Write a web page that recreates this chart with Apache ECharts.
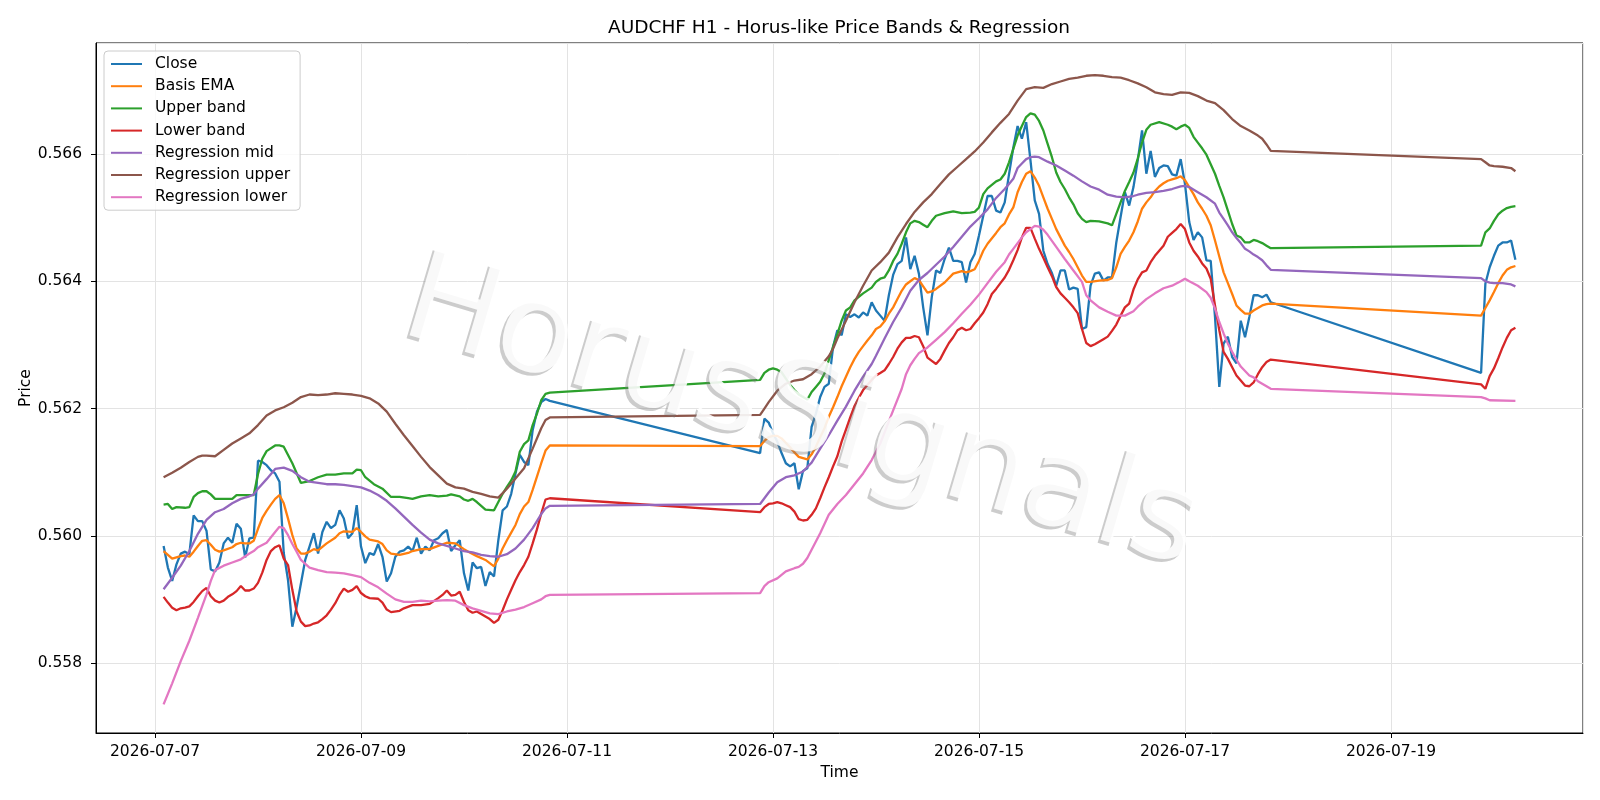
<!DOCTYPE html>
<html>
<head>
<meta charset="utf-8">
<title>AUDCHF H1 - Horus-like Price Bands & Regression</title>
<script src="https://cdn.jsdelivr.net/npm/echarts@6/dist/echarts.min.js"></script>
<style>
  html, body { margin: 0; padding: 0; background: #fff; }
  #chart { width: 1600px; height: 800px; }
</style>
</head>
<body>
<div id="chart"></div>
<script>
// time is kept as hours after 2026-07-07 00:00 UTC
const T0 = Date.UTC(2026, 6, 7);
const HOUR = 3600 * 1000;

// close, hourly, three trading blocks (weekend gaps in between)
const closeStart = [2, 141, 309];
const closeSeg1 = [
  0.55984, 0.55950, 0.55929, 0.55955, 0.55972, 0.55975, 0.55971, 0.56032, 0.56023, 0.56023,
  0.56008, 0.55947, 0.55944, 0.55958, 0.55988, 0.55997, 0.55989, 0.56019, 0.56011, 0.55966,
  0.55996, 0.55997, 0.56118, 0.56116, 0.56111, 0.56103, 0.56098, 0.56085, 0.55973, 0.55930,
  0.55857, 0.55888, 0.55925, 0.55962, 0.55983, 0.56004, 0.55972, 0.56006, 0.56022, 0.56012,
  0.56017, 0.56040, 0.56027, 0.55996, 0.56004, 0.56048, 0.55983, 0.55957, 0.55973, 0.55970,
  0.55987, 0.55967, 0.55928, 0.55941, 0.55967, 0.55975, 0.55977, 0.55983, 0.55976, 0.55997,
  0.55972, 0.55983, 0.55977, 0.55993, 0.55996, 0.56004, 0.56009, 0.55976, 0.55985, 0.55993,
  0.55941, 0.55914, 0.55958, 0.55949, 0.55951, 0.55921, 0.55943, 0.55936, 0.55993, 0.56040,
  0.56046, 0.56066, 0.56098, 0.56127, 0.56116, 0.56111, 0.56166, 0.56195, 0.56210, 0.56215,
  0.56212
];
const closeSeg2 = [
  0.56130, 0.56184, 0.56178, 0.56161, 0.56148, 0.56130, 0.56114, 0.56109, 0.56114, 0.56073,
  0.56102, 0.56106, 0.56171, 0.56192, 0.56218, 0.56234, 0.56239, 0.56297, 0.56323, 0.56315,
  0.56348, 0.56344, 0.56348, 0.56343, 0.56351, 0.56346, 0.56367, 0.56354, 0.56346, 0.56338,
  0.56378, 0.56410, 0.56427, 0.56432, 0.56469, 0.56419, 0.56440, 0.56412, 0.56359, 0.56315,
  0.56375, 0.56417, 0.56413, 0.56435, 0.56453, 0.56432, 0.56432, 0.56430, 0.56398, 0.56430,
  0.56443, 0.56472, 0.56503, 0.56534, 0.56534, 0.56511, 0.56508, 0.56524, 0.56568, 0.56610,
  0.56644, 0.56624, 0.56650, 0.56590, 0.56527, 0.56506, 0.56448, 0.56427, 0.56413, 0.56393,
  0.56417, 0.56417, 0.56387, 0.56390, 0.56388, 0.56325, 0.56328, 0.56393, 0.56412, 0.56414,
  0.56401, 0.56406, 0.56406, 0.56461, 0.56501, 0.56540, 0.56519, 0.56548, 0.56590, 0.56637,
  0.56569, 0.56605, 0.56564, 0.56578, 0.56582, 0.56581, 0.56568, 0.56566, 0.56592, 0.56553,
  0.56493, 0.56465, 0.56477, 0.56469, 0.56433, 0.56432, 0.56344, 0.56234, 0.56302, 0.56313,
  0.56281, 0.56271, 0.56338, 0.56312, 0.56344, 0.56378, 0.56378, 0.56375, 0.56379, 0.56367
];
const closeSeg3 = [0.56256, 0.56396, 0.56422, 0.56440, 0.56456, 0.56461, 0.56461, 0.56464, 0.56434];

// smoother series: [hour, price]
const basisEma = [
  [2,0.55976],[4,0.55964],[6,0.55968],[7,0.55969],[8,0.55967],[9,0.55975],[10,0.55984],[11,0.55992],[12,0.55993],[13,0.55986],
  [14,0.55978],[15,0.55975],[16,0.55977],[18,0.55982],[19,0.55987],[20,0.55989],[21,0.55988],[22,0.55988],[23,0.55992],[24,0.56011],
  [25,0.56028],[26,0.56039],[27,0.56049],[28,0.56058],[29,0.56064],[30,0.56051],[31,0.56027],[32,0.56001],[33,0.55980],[34,0.55972],
  [35,0.55972],[36,0.55975],[37,0.55979],[38,0.55977],[40,0.55988],[42,0.55997],[43,0.56004],[44,0.56007],[46,0.56006],[47,0.56012],
  [48,0.56006],[49,0.55999],[50,0.55994],[52,0.55991],[53,0.55987],[54,0.55977],[55,0.55972],[57,0.55970],[59,0.55973],[60,0.55976],
  [62,0.55979],[64,0.55979],[66,0.55984],[68,0.55989],[70,0.55988],[72,0.55979],[73,0.55975],[75,0.55968],[77,0.55962],[79,0.55952],
  [80,0.55964],[81,0.55980],[82,0.55993],[83,0.56005],[84,0.56017],[85,0.56034],[86,0.56046],[87,0.56053],[88,0.56072],[89,0.56093],
  [90,0.56114],[91,0.56134],[92,0.56142],
  [141,0.56141],[142,0.56149],[143,0.56155],[144,0.56157],[145,0.56157],[146,0.56153],[147,0.56146],[148,0.56139],[149,0.56131],[150,0.56124],
  [151,0.56122],[152,0.56120],[153,0.56128],[154,0.56140],[155,0.56155],[156,0.56169],[157,0.56187],[158,0.56202],[159,0.56218],[160,0.56235],
  [161,0.56250],[162,0.56265],[163,0.56278],[164,0.56289],[165,0.56298],[166,0.56307],[167,0.56315],[168,0.56325],[169,0.56329],[170,0.56337],
  [171,0.56349],[172,0.56359],[173,0.56372],[174,0.56385],[175,0.56395],[176,0.56400],[177,0.56405],[178,0.56402],[179,0.56392],[180,0.56382],
  [181,0.56384],[182,0.56388],[184,0.56398],[186,0.56412],[188,0.56416],[189,0.56414],[190,0.56416],[191,0.56419],[192,0.56432],[193,0.56448],
  [194,0.56459],[196,0.56476],[197,0.56485],[198,0.56491],[199,0.56505],[200,0.56516],[201,0.56540],[202,0.56556],[203,0.56569],[204,0.56573],
  [205,0.56563],[206,0.56550],[207,0.56532],[208,0.56514],[209,0.56498],[210,0.56482],[211,0.56469],[212,0.56456],[213,0.56446],[214,0.56435],
  [215,0.56422],[216,0.56409],[217,0.56399],[218,0.56399],[220,0.56401],[222,0.56402],[223,0.56405],[224,0.56422],[225,0.56443],[226,0.56454],
  [227,0.56464],[228,0.56477],[229,0.56494],[230,0.56514],[231,0.56524],[232,0.56532],[233,0.56542],[234,0.56549],[235,0.56554],[236,0.56558],
  [237,0.56560],[238,0.56562],[239,0.56565],[240,0.56559],[241,0.56548],[242,0.56537],[243,0.56524],[244,0.56514],[245,0.56503],[246,0.56488],
  [247,0.56464],[248,0.56439],[249,0.56414],[250,0.56397],[251,0.56380],[252,0.56362],[253,0.56355],[254,0.56349],[255,0.56349],[256,0.56354],
  [257,0.56358],[258,0.56362],[259,0.56364],[260,0.56365],
  [309,0.56346],[310,0.56358],[311,0.56370],[312,0.56383],[313,0.56397],[314,0.56409],[315,0.56418],[316,0.56422],[317,0.56424]
];
const upperBand = [
  [2,0.56049],[3,0.56050],[4,0.56042],[5,0.56045],[7,0.56044],[8,0.56045],[9,0.56061],[10,0.56067],[11,0.56070],[12,0.56070],
  [13,0.56065],[14,0.56058],[18,0.56058],[19,0.56064],[23,0.56064],[24,0.56097],[25,0.56121],[26,0.56133],[28,0.56142],[29,0.56142],
  [30,0.56140],[31,0.56127],[32,0.56114],[34,0.56083],[36,0.56086],[38,0.56092],[40,0.56096],[42,0.56096],[44,0.56098],[46,0.56098],
  [47,0.56104],[48,0.56103],[49,0.56092],[51,0.56081],[53,0.56074],[55,0.56061],[57,0.56061],[59,0.56059],[60,0.56058],[62,0.56062],
  [64,0.56064],[66,0.56062],[68,0.56063],[69,0.56065],[71,0.56062],[72,0.56057],[73,0.56055],[74,0.56058],[75,0.56053],[77,0.56041],
  [79,0.56040],[80,0.56053],[81,0.56066],[82,0.56077],[83,0.56087],[84,0.56101],[85,0.56132],[86,0.56144],[87,0.56150],[88,0.56174],
  [89,0.56192],[90,0.56213],[91,0.56223],[92,0.56225],
  [141,0.56245],[142,0.56256],[143,0.56261],[144,0.56263],[145,0.56261],[146,0.56257],[147,0.56247],[148,0.56237],[149,0.56229],[150,0.56222],
  [151,0.56218],[152,0.56214],[153,0.56226],[154,0.56234],[155,0.56242],[156,0.56255],[157,0.56276],[158,0.56297],[159,0.56317],[160,0.56338],
  [161,0.56354],[162,0.56359],[163,0.56370],[165,0.56381],[167,0.56390],[168,0.56399],[169,0.56404],[170,0.56406],[171,0.56417],[172,0.56432],
  [173,0.56443],[174,0.56459],[175,0.56477],[176,0.56491],[177,0.56495],[178,0.56493],[179,0.56489],[180,0.56485],[181,0.56495],[182,0.56503],
  [184,0.56507],[186,0.56510],[188,0.56507],[190,0.56508],[191,0.56509],[192,0.56516],[193,0.56537],[194,0.56546],[196,0.56557],[197,0.56560],
  [198,0.56569],[199,0.56587],[200,0.56608],[201,0.56629],[202,0.56644],[203,0.56658],[204,0.56664],[205,0.56662],[206,0.56652],[207,0.56637],
  [208,0.56616],[209,0.56595],[210,0.56571],[211,0.56556],[212,0.56545],[213,0.56532],[214,0.56521],[215,0.56507],[216,0.56498],[217,0.56493],
  [218,0.56495],[220,0.56494],[222,0.56491],[223,0.56488],[224,0.56506],[225,0.56524],[226,0.56542],[227,0.56556],[228,0.56571],[229,0.56593],
  [230,0.56618],[231,0.56638],[232,0.56646],[234,0.56650],[236,0.56646],[237,0.56643],[238,0.56639],[239,0.56643],[240,0.56646],[241,0.56641],
  [242,0.56627],[243,0.56618],[244,0.56609],[245,0.56599],[246,0.56584],[247,0.56569],[248,0.56550],[249,0.56532],[250,0.56511],[251,0.56490],
  [252,0.56472],[253,0.56469],[254,0.56461],[255,0.56461],[256,0.56465],[257,0.56463],[258,0.56460],[259,0.56456],[260,0.56452],
  [309,0.56456],[310,0.56477],[311,0.56483],[312,0.56495],[313,0.56505],[314,0.56511],[315,0.56515],[316,0.56517],[317,0.56518]
];
const lowerBand = [
  [2,0.55904],[3,0.55895],[4,0.55887],[5,0.55883],[6,0.55886],[7,0.55887],[8,0.55889],[9,0.55896],[10,0.55905],[11,0.55913],
  [12,0.55918],[13,0.55905],[14,0.55898],[15,0.55895],[16,0.55898],[17,0.55904],[18,0.55908],[19,0.55913],[20,0.55921],[21,0.55914],
  [22,0.55914],[23,0.55917],[24,0.55926],[25,0.55942],[26,0.55962],[27,0.55976],[28,0.55982],[29,0.55985],[30,0.55964],[31,0.55954],
  [32,0.55915],[33,0.55881],[34,0.55865],[35,0.55858],[36,0.55859],[37,0.55862],[38,0.55864],[39,0.55869],[40,0.55875],[41,0.55884],
  [42,0.55894],[43,0.55907],[44,0.55917],[45,0.55912],[46,0.55915],[47,0.55921],[48,0.55910],[49,0.55905],[50,0.55902],[52,0.55901],
  [53,0.55895],[54,0.55884],[55,0.55880],[57,0.55882],[58,0.55886],[60,0.55891],[62,0.55891],[64,0.55893],[66,0.55902],[67,0.55907],
  [68,0.55914],[69,0.55906],[70,0.55907],[71,0.55912],[72,0.55896],[73,0.55883],[74,0.55879],[75,0.55881],[76,0.55877],[77,0.55873],
  [78,0.55869],[79,0.55863],[80,0.55868],[81,0.55883],[82,0.55900],[83,0.55915],[84,0.55930],[85,0.55943],[86,0.55954],[87,0.55967],
  [88,0.55988],[89,0.56010],[90,0.56035],[91,0.56057],[92,0.56059],
  [141,0.56037],[142,0.56045],[143,0.56050],[144,0.56051],[145,0.56053],[146,0.56051],[147,0.56048],[148,0.56045],[149,0.56038],[150,0.56026],
  [151,0.56024],[152,0.56025],[153,0.56033],[154,0.56043],[155,0.56059],[156,0.56076],[157,0.56092],[158,0.56109],[159,0.56125],[160,0.56148],
  [161,0.56167],[162,0.56186],[163,0.56204],[164,0.56217],[165,0.56229],[166,0.56237],[167,0.56245],[168,0.56252],[169,0.56256],[170,0.56260],
  [171,0.56270],[172,0.56281],[173,0.56294],[174,0.56304],[175,0.56311],[176,0.56311],[177,0.56314],[178,0.56312],[179,0.56298],[180,0.56280],
  [181,0.56275],[182,0.56270],[183,0.56278],[184,0.56291],[185,0.56303],[186,0.56312],[187,0.56323],[188,0.56327],[189,0.56323],[190,0.56325],
  [191,0.56334],[192,0.56342],[193,0.56351],[194,0.56364],[195,0.56380],[196,0.56388],[197,0.56397],[198,0.56406],[199,0.56418],[200,0.56433],
  [201,0.56449],[202,0.56469],[203,0.56484],[204,0.56484],[205,0.56467],[206,0.56451],[207,0.56437],[208,0.56422],[209,0.56408],[210,0.56391],
  [211,0.56381],[212,0.56374],[213,0.56367],[214,0.56359],[215,0.56350],[216,0.56325],[217,0.56303],[218,0.56298],[219,0.56301],[220,0.56305],
  [221,0.56309],[222,0.56313],[223,0.56322],[224,0.56332],[225,0.56346],[226,0.56359],[227,0.56365],[228,0.56387],[229,0.56403],[230,0.56414],
  [231,0.56417],[232,0.56430],[233,0.56440],[234,0.56448],[235,0.56456],[236,0.56470],[237,0.56476],[238,0.56482],[239,0.56490],[240,0.56482],
  [241,0.56461],[242,0.56448],[243,0.56439],[244,0.56428],[245,0.56420],[246,0.56404],[247,0.56362],[248,0.56323],[249,0.56289],[250,0.56278],
  [251,0.56265],[252,0.56252],[253,0.56244],[254,0.56236],[255,0.56235],[256,0.56241],[257,0.56254],[258,0.56265],[259,0.56273],[260,0.56277],
  [309,0.56238],[310,0.56231],[311,0.56251],[312,0.56263],[313,0.56279],[314,0.56296],[315,0.56311],[316,0.56323],[317,0.56327]
];
const regMid = [
  [2,0.55916],[4,0.55934],[6,0.55953],[8,0.55976],[10,0.56003],[12,0.56025],[14,0.56037],[16,0.56042],[18,0.56051],[20,0.56058],
  [22,0.56062],[23,0.56065],[24,0.56074],[26,0.56089],[28,0.56105],[30,0.56107],[32,0.56102],[34,0.56092],[36,0.56085],[38,0.56083],
  [40,0.56081],[42,0.56081],[44,0.56080],[46,0.56078],[48,0.56076],[50,0.56071],[52,0.56064],[54,0.56055],[56,0.56043],[58,0.56030],
  [60,0.56017],[62,0.56005],[64,0.55994],[66,0.55988],[68,0.55984],[70,0.55980],[72,0.55976],[74,0.55974],[76,0.55970],[78,0.55968],
  [80,0.55967],[82,0.55971],[84,0.55980],[86,0.55994],[88,0.56012],[90,0.56034],[91,0.56043],[92,0.56047],
  [141,0.56050],[142,0.56059],[143,0.56068],[145,0.56084],[147,0.56092],[149,0.56095],[151,0.56101],[152,0.56108],[153,0.56115],[155,0.56137],
  [157,0.56158],[159,0.56181],[161,0.56203],[163,0.56228],[165,0.56250],[167,0.56270],[168,0.56283],[170,0.56310],[172,0.56336],[174,0.56359],
  [176,0.56385],[178,0.56402],[180,0.56413],[182,0.56426],[184,0.56439],[186,0.56454],[188,0.56470],[190,0.56486],[192,0.56499],[194,0.56513],
  [196,0.56531],[198,0.56545],[199,0.56553],[200,0.56561],[201,0.56578],[202,0.56585],[203,0.56592],[204,0.56595],[205,0.56596],[206,0.56595],
  [208,0.56588],[210,0.56582],[212,0.56574],[214,0.56566],[216,0.56557],[218,0.56549],[220,0.56544],[222,0.56536],[224,0.56533],[226,0.56532],
  [228,0.56534],[229,0.56536],[231,0.56539],[233,0.56540],[235,0.56542],[237,0.56545],[239,0.56549],[240,0.56550],[241,0.56548],[243,0.56540],
  [245,0.56532],[247,0.56522],[248,0.56508],[249,0.56498],[250,0.56488],[251,0.56477],[252,0.56468],[253,0.56460],[254,0.56451],[255,0.56447],
  [256,0.56442],[257,0.56438],[258,0.56433],[259,0.56425],[260,0.56418],
  [309,0.56405],[310,0.56400],[311,0.56398],[312,0.56397],[314,0.56397],[316,0.56395],[317,0.56392]
];
const regUpper = [
  [2,0.56092],[4,0.56099],[6,0.56107],[8,0.56116],[10,0.56124],[11,0.56126],[12,0.56126],[14,0.56125],[16,0.56135],[18,0.56145],
  [20,0.56153],[22,0.56161],[24,0.56174],[26,0.56189],[28,0.56197],[30,0.56202],[32,0.56209],[34,0.56218],[36,0.56222],[38,0.56221],
  [40,0.56222],[42,0.56224],[44,0.56223],[46,0.56222],[48,0.56220],[50,0.56216],[52,0.56208],[54,0.56195],[56,0.56176],[58,0.56158],
  [60,0.56141],[62,0.56124],[64,0.56108],[66,0.56095],[68,0.56082],[70,0.56076],[72,0.56074],[74,0.56069],[76,0.56066],[78,0.56062],
  [80,0.56060],[82,0.56074],[84,0.56090],[86,0.56106],[88,0.56137],[90,0.56169],[91,0.56182],[92,0.56186],
  [141,0.56190],[142,0.56200],[143,0.56210],[145,0.56228],[147,0.56239],[149,0.56244],[151,0.56246],[153,0.56254],[155,0.56266],[157,0.56282],
  [158,0.56294],[159,0.56310],[161,0.56338],[163,0.56367],[165,0.56393],[167,0.56417],[169,0.56430],[171,0.56445],[173,0.56469],[175,0.56490],
  [177,0.56509],[179,0.56524],[181,0.56537],[183,0.56553],[185,0.56568],[187,0.56580],[189,0.56592],[191,0.56604],[193,0.56618],[195,0.56634],
  [197,0.56649],[199,0.56663],[201,0.56684],[203,0.56702],[205,0.56705],[207,0.56704],[209,0.56710],[211,0.56714],[213,0.56718],[215,0.56720],
  [217,0.56723],[219,0.56724],[221,0.56723],[223,0.56721],[225,0.56720],[227,0.56716],[229,0.56711],[231,0.56705],[233,0.56697],[235,0.56694],
  [237,0.56693],[239,0.56697],[241,0.56696],[243,0.56691],[245,0.56684],[247,0.56680],[249,0.56669],[251,0.56655],[253,0.56644],[255,0.56637],
  [257,0.56629],[258,0.56624],[259,0.56615],[260,0.56605],
  [309,0.56592],[310,0.56587],[311,0.56582],[312,0.56581],[314,0.56580],[316,0.56578],[317,0.56573]
];
const regLower = [
  [2,0.55735],[4,0.55768],[6,0.55803],[8,0.55835],[10,0.55871],[12,0.55908],[13,0.55929],[14,0.55946],[16,0.55953],[18,0.55958],
  [20,0.55963],[22,0.55972],[23,0.55976],[24,0.55982],[26,0.55989],[28,0.56006],[29,0.56014],[30,0.56012],[31,0.56001],[32,0.55987],
  [33,0.55975],[34,0.55962],[36,0.55950],[38,0.55946],[40,0.55943],[42,0.55942],[44,0.55941],[46,0.55938],[48,0.55935],[50,0.55926],
  [52,0.55919],[54,0.55909],[56,0.55900],[58,0.55896],[60,0.55896],[62,0.55898],[64,0.55897],[66,0.55898],[68,0.55899],[70,0.55898],
  [72,0.55891],[74,0.55886],[76,0.55882],[78,0.55878],[80,0.55877],[82,0.55881],[84,0.55884],[86,0.55888],[88,0.55894],[90,0.55900],
  [91,0.55905],[92,0.55907],
  [141,0.55910],[142,0.55921],[143,0.55927],[145,0.55933],[147,0.55944],[149,0.55949],[150,0.55951],[151,0.55956],[152,0.55965],[153,0.55978],
  [155,0.56004],[157,0.56033],[159,0.56050],[161,0.56064],[163,0.56081],[165,0.56098],[167,0.56119],[169,0.56145],[172,0.56197],[173,0.56214],
  [174,0.56231],[175,0.56254],[176,0.56268],[177,0.56278],[178,0.56287],[180,0.56296],[182,0.56308],[184,0.56320],[186,0.56334],[188,0.56349],
  [190,0.56363],[192,0.56379],[194,0.56397],[196,0.56415],[198,0.56430],[199,0.56442],[200,0.56451],[201,0.56460],[202,0.56469],[203,0.56477],
  [204,0.56482],[205,0.56487],[206,0.56486],[207,0.56481],[208,0.56473],[210,0.56454],[212,0.56435],[214,0.56417],[216,0.56399],[217,0.56378],
  [218,0.56370],[220,0.56359],[222,0.56352],[224,0.56346],[226,0.56346],[228,0.56353],[229,0.56360],[231,0.56372],[233,0.56381],[235,0.56389],
  [237,0.56393],[239,0.56400],[240,0.56404],[241,0.56400],[243,0.56393],[245,0.56383],[246,0.56374],[247,0.56357],[248,0.56336],[249,0.56318],
  [250,0.56302],[251,0.56289],[252,0.56277],[253,0.56266],[254,0.56259],[255,0.56252],[256,0.56249],[257,0.56243],[258,0.56239],[259,0.56235],
  [260,0.56231],
  [309,0.56218],[310,0.56216],[311,0.56213],[317,0.56212]
];

const seriesNames = ['Close', 'Basis EMA', 'Upper band', 'Lower band', 'Regression mid', 'Regression upper', 'Regression lower'];
const seriesColors = ['#1f77b4', '#ff7f0e', '#2ca02c', '#d62728', '#9467bd', '#8c564b', '#e377c2'];

// build [time, value] pairs
const toTime = h => T0 + h * HOUR;
const closeData = [];
[closeSeg1, closeSeg2, closeSeg3].forEach((seg, i) => {
  seg.forEach((v, k) => closeData.push([toTime(closeStart[i] + k), v]));
});
const pairs = arr => arr.map(p => [toTime(p[0]), p[1]]);
const seriesData = [closeData, pairs(basisEma), pairs(upperBand), pairs(lowerBand),
  pairs(regMid), pairs(regUpper), pairs(regLower)];

const FONT = 'DejaVu Sans';
const pad2 = n => (n < 10 ? '0' : '') + n;
function dayLabel(v) {
  const d = new Date(v);
  return d.getUTCFullYear() + '-' + pad2(d.getUTCMonth() + 1) + '-' + pad2(d.getUTCDate());
}

// watermark: a grey copy shifted down-left, then a white copy on top
const wmText = 'HorusSignals';
const wmFont = '126px "DejaVu Sans"';
const wmRot = -16.5 * Math.PI / 180;
function wmLayer(dx, dy, fill, z) {
  return {
    type: 'text', x: 801 + dx, y: 417 + dy, rotation: wmRot, z: z, silent: true,
    style: {
      text: wmText, font: wmFont, fill: fill,
      align: 'center', verticalAlign: 'middle',
      textAlign: 'center', textVerticalAlign: 'middle'
    }
  };
}

const chart = echarts.init(document.getElementById('chart'), null, { renderer: 'canvas' });
const option = {
  useUTC: true,
  animation: false,
  backgroundColor: '#ffffff',
  title: {
    text: 'AUDCHF H1 - Horus-like Price Bands & Regression',
    left: 839,
    top: 19,
    padding: 0,
    textAlign: 'center',
    textStyle: { fontFamily: FONT, fontSize: 18.5, fontWeight: 'normal', color: '#000' }
  },
  grid: {
    left: 96, right: 17, top: 43, bottom: 67,
    show: true, borderColor: '#000', borderWidth: 1, backgroundColor: 'transparent'
  },
  legend: {
    orient: 'vertical',
    left: 104, top: 51,
    padding: [5, 10, 5, 6],
    itemWidth: 31, itemHeight: 14, itemGap: 6.2,
    backgroundColor: 'rgba(255,255,255,0.8)',
    borderColor: '#cccccc', borderWidth: 1, borderRadius: 4,
    itemStyle: { opacity: 0 },
    textStyle: { fontFamily: FONT, fontSize: 15.5, color: '#000', lineHeight: 14, padding: [0, 0, 0, 8] },
    data: seriesNames
  },
  xAxis: {
    type: 'time',
    min: toTime(-13.75),
    max: toTime(332.75),
    splitNumber: 7,
    minInterval: 2 * 24 * HOUR,
    maxInterval: 2 * 24 * HOUR,
    name: 'Time',
    nameLocation: 'middle',
    nameGap: 30,
    nameTextStyle: { fontFamily: FONT, fontSize: 15.5, color: '#000' },
    axisLine: { show: true, lineStyle: { color: '#000', width: 1 } },
    axisTick: { show: true, length: 5, lineStyle: { color: '#000', width: 1 } },
    axisLabel: {
      fontFamily: FONT, fontSize: 15.5, color: '#000', margin: 11,
      showMinLabel: false, showMaxLabel: false,
      formatter: v => dayLabel(v)
    },
    splitLine: { show: true, lineStyle: { color: '#e3e3e3', width: 1 } }
  },
  yAxis: {
    type: 'value',
    min: 0.5569,
    max: 0.567745,
    splitNumber: 5,
    name: 'Price',
    nameLocation: 'middle',
    nameGap: 62,
    nameMoveOverlap: false,
    nameTextStyle: { fontFamily: FONT, fontSize: 15.5, color: '#000' },
    axisLine: { show: true, lineStyle: { color: '#000', width: 1 } },
    axisTick: { show: true, length: 5, lineStyle: { color: '#000', width: 1 } },
    axisLabel: {
      fontFamily: FONT, fontSize: 15.5, color: '#000', margin: 14,
      showMinLabel: false, showMaxLabel: false,
      formatter: v => v.toFixed(3)
    },
    splitLine: { show: true, lineStyle: { color: '#e3e3e3', width: 1 } }
  },
  graphic: [
    wmLayer(-3, 3, 'rgba(120,120,120,0.38)', 100),
    wmLayer(0, 0, 'rgba(255,255,255,0.88)', 101)
  ],
  series: seriesNames.map((name, i) => ({
    name: name,
    type: 'line',
    data: seriesData[i],
    symbol: 'none',
    showSymbol: false,
    color: seriesColors[i],
    lineStyle: { color: seriesColors[i], width: 2.3 },
    emphasis: { disabled: true }
  }))
};
chart.setOption(option);
</script>
</body>
</html>
